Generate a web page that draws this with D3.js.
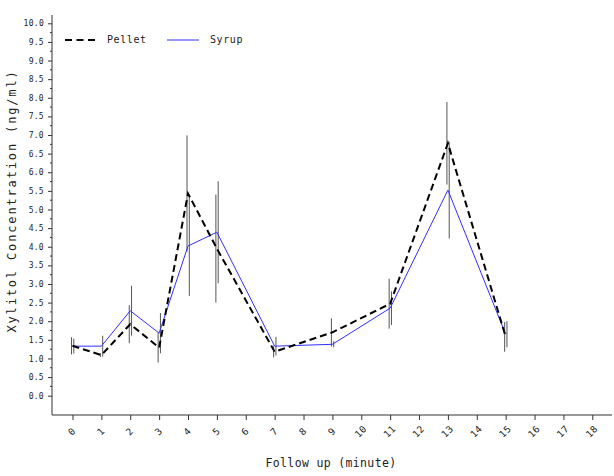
<!DOCTYPE html>
<html>
<head>
<meta charset="utf-8">
<script src="https://cdn.jsdelivr.net/npm/d3@7"></script>
<style>
  html, body { margin: 0; padding: 0; background: #fff; }
  svg { display: block; }
  text { font-family: "DejaVu Sans Mono", "Liberation Mono", monospace; fill: #222; }
</style>
</head>
<body>
<svg id="chart" width="614" height="476"></svg>
<script>
// ---- data ----
const times = [0, 1, 2, 3, 4, 5, 7, 9, 11, 13, 15];
const pellet = [1.34, 1.09, 1.92, 1.29, 5.43, 3.95, 1.18, 1.70, 2.47, 6.78, 1.58];
const pelletErr = [0.23, 0.05, 0.51, 0.40, 1.56, 1.45, 0.15, 0.38, 0.67, 1.11, 0.40];
const syrup = [1.33, 1.33, 2.28, 1.68, 4.02, 4.39, 1.33, 1.38, 2.35, 5.52, 1.65];
const syrupErr = [0.20, 0.28, 0.67, 0.54, 1.34, 1.37, 0.25, 0.08, 0.45, 1.30, 0.35];
const xTickLabels = ["0","1","2","3","4","5","6","7","8","9","10","11","12","13","14","15","16","17","18"];
const yTickLabels = ["0.0","0.5","1.0","1.5","2.0","2.5","3.0","3.5","4.0","4.5","5.0","5.5","6.0","6.5","7.0","7.5","8.0","8.5","9.0","9.5","10.0"];
const seriesNames = ["Pellet", "Syrup"];

// ---- layout ----
const svg = d3.select("#chart");
const axisColor = "#333";
const x = d3.scaleLinear().domain([0, 18]).range([72.5, 592.3]);
const y = d3.scaleLinear().domain([0, 10]).range([395.7, 23.3]);
const axisX0 = 52, axisX1 = 612;
const axisYtop = 15, axisYbottom = 415;

// y axis
const yAxis = d3.axisLeft(y)
  .tickValues(yTickLabels.map(Number))
  .tickFormat((d, i) => yTickLabels[i])
  .tickSize(4).tickPadding(4);
const gy = svg.append("g").attr("transform", `translate(${axisX0},0)`).call(yAxis);
gy.select(".domain").remove();
gy.selectAll("line").attr("stroke", axisColor);
gy.selectAll("text").attr("font-size", 8).attr("font-family", "DejaVu Sans Mono").attr("fill", "#222").attr("letter-spacing", 0.3);
// minor ticks
const minor = yTickLabels.slice(0, -1).map(v => Number(v) + 0.25);
svg.append("g").selectAll("line").data(minor).join("line")
  .attr("x1", axisX0 - 2).attr("x2", axisX0)
  .attr("y1", d => y(d)).attr("y2", d => y(d))
  .attr("stroke", axisColor);
svg.append("line").attr("x1", axisX0).attr("x2", axisX0)
  .attr("y1", axisYtop).attr("y2", axisYbottom).attr("stroke", axisColor);

// x axis
const xAxis = d3.axisBottom(x)
  .tickValues(xTickLabels.map(Number))
  .tickFormat("")
  .tickSize(5);
const gx = svg.append("g").attr("transform", `translate(0,${axisYbottom})`).call(xAxis);
gx.select(".domain").remove();
gx.selectAll("line").attr("stroke", axisColor);
svg.append("line").attr("x1", axisX0).attr("x2", axisX1)
  .attr("y1", axisYbottom).attr("y2", axisYbottom).attr("stroke", axisColor);
svg.append("g").selectAll("text").data(xTickLabels).join("text")
  .attr("transform", d => `translate(${x(+d)},${axisYbottom + 17}) rotate(-45)`)
  .attr("text-anchor", "middle")
  .attr("dominant-baseline", "middle")
  .attr("font-size", 9.5)
  .attr("letter-spacing", 0.5)
  .text(d => d);

// axis titles
svg.append("text")
  .attr("x", 331).attr("y", 467)
  .attr("text-anchor", "middle")
  .attr("font-size", 11.5)
  .attr("letter-spacing", 0.35)
  .text("Follow up (minute)");
svg.append("text")
  .attr("transform", "translate(16,201) rotate(-90)")
  .attr("text-anchor", "middle")
  .attr("font-size", 12)
  .attr("letter-spacing", 1.85)
  .text("Xylitol Concentration (ng/ml)");

// error bars
const barColor = "#555";
svg.append("g").selectAll("line").data(times).join("line")
  .attr("x1", (d, i) => x(d) - 1).attr("x2", (d, i) => x(d) - 1)
  .attr("y1", (d, i) => y(pellet[i] + pelletErr[i]))
  .attr("y2", (d, i) => y(pellet[i] - pelletErr[i]))
  .attr("stroke", barColor).attr("stroke-width", 1);
svg.append("g").selectAll("line").data(times).join("line")
  .attr("x1", (d, i) => x(d) + 1.3).attr("x2", (d, i) => x(d) + 1.3)
  .attr("y1", (d, i) => y(syrup[i] + syrupErr[i]))
  .attr("y2", (d, i) => y(syrup[i] - syrupErr[i]))
  .attr("stroke", barColor).attr("stroke-width", 1);

// lines
const line = d3.line().x(d => x(d[0])).y(d => y(d[1]));
const blue = "#3030ff";
svg.append("path")
  .attr("d", line(times.map((t, i) => [t, syrup[i]])))
  .attr("fill", "none").attr("stroke", blue).attr("stroke-width", 1);
svg.append("path")
  .attr("d", line(times.map((t, i) => [t, pellet[i]])))
  .attr("fill", "none").attr("stroke", "#000").attr("stroke-width", 2)
  .attr("stroke-dasharray", "7,4");

// legend
const leg = svg.append("g");
leg.append("line").attr("x1", 65).attr("x2", 98).attr("y1", 40).attr("y2", 40)
  .attr("stroke", "#000").attr("stroke-width", 2).attr("stroke-dasharray", "7,4.5");
leg.append("text").attr("x", 107).attr("y", 40).attr("dominant-baseline", "middle")
  .attr("font-size", 10).attr("letter-spacing", 0.6).text(seriesNames[0]);
leg.append("line").attr("x1", 167).attr("x2", 199).attr("y1", 40).attr("y2", 40)
  .attr("stroke", blue).attr("stroke-width", 1);
leg.append("text").attr("x", 210).attr("y", 40).attr("dominant-baseline", "middle")
  .attr("font-size", 10).attr("letter-spacing", 0.6).text(seriesNames[1]);
</script>
</body>
</html>
